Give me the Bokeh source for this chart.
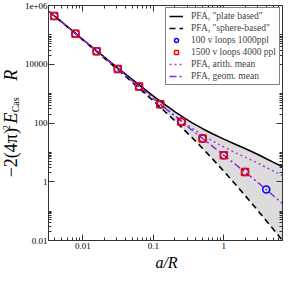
import math
from bokeh.plotting import figure
from bokeh.layouts import row, column
from bokeh.models import (FixedTicker, LogAxis, CustomJSTickFormatter,
                          Legend, LegendItem, Range1d)
from bokeh.core.properties import value
from bokeh.embed import file_html
from bokeh.resources import INLINE

# ---------------- data ----------------
x_curve = [0.0033, 0.01, 0.03, 0.1, 0.2, 0.35, 0.5, 0.7, 1.0, 1.5, 2.0, 3.0, 4.0, 5.0, 6.8]
pfa_plate = [628500, 69360, 8010, 823.4, 244.7, 102.5, 63.9, 42.3, 28.2, 18.1, 13.5, 8.66, 6.06, 4.63, 3.25]
pfa_sphere = [620200, 66670, 7129, 566.7, 121.4, 32.7, 13.6, 5.785, 2.267, 0.7555, 0.340, 0.108, 0.04723, 0.02471, 0.01007]
pfa_arith = [624400, 68010, 7568, 695.2, 183.0, 67.6, 38.8, 24.1, 15.2, 9.44, 6.91, 4.38, 3.06, 2.33, 1.63]
pfa_geom = [624400, 68000, 7556, 683.2, 172.4, 57.9, 29.5, 15.65, 7.99, 3.70, 2.14, 0.967, 0.535, 0.3385, 0.181]

x_loops_100 = [0.00390625, 0.0078125, 0.015625, 0.03125, 0.0625, 0.125, 0.25, 0.5, 1.0, 2.0, 4.0]
e_loops_100 = [4.4e5, 1.1e5, 2.75e4, 6900, 1740, 437, 110, 29.5, 8.0, 2.15, 0.54]
x_loops_1500 = [0.00390625, 0.0078125, 0.015625, 0.03125, 0.0625, 0.125, 0.25, 0.5, 1.0, 2.0]
e_loops_1500 = [4.4e5, 1.1e5, 2.75e4, 6900, 1740, 437, 110, 29.5, 8.0, 2.15]

y_tick_values = [0.01, 1, 100, 10000, 1e6]
y_tick_labels = ["0.01", "1", "100", "10000", "1e+06"]
x_tick_values = [0.01, 0.1, 1]
x_tick_labels = ["0.01", "0.1", "1"]

legend_labels = ['PFA, "plate based"', 'PFA, "sphere-based"', '100 v loops 1000ppl',
                 '1500 v loops 4000 ppl', 'PFA, arith. mean', 'PFA, geom. mean']

# y-axis title pieces: main text, superscript, italic E, subscript, italic R
ytitle_parts = ["\u22122(4\u03c0)", "2", "E", "Cas", "R"]
xtitle = "a/R"

# minor tick positions
x_minor = [k * 10.0 ** e for e in (-3, -2, -1, 0) for k in range(2, 10)]
y_minor = [k * 10.0 ** e for e in (-2, 0, 2, 4) for k in range(2, 11)]

SERIF = "Liberation Serif"
AXC = "#333333"
H_MAIN = 253
W_YL = 21

p = figure(width=283 - W_YL, height=H_MAIN, x_axis_type="log", y_axis_type="log",
           x_range=Range1d(0.00324, 6.8), y_range=Range1d(0.01, 1e6),
           output_backend="svg", toolbar_location=None,
           min_border_left=24, min_border_right=1, min_border_top=5, min_border_bottom=13)
p.xgrid.visible = False
p.ygrid.visible = False
p.outline_line_color = AXC
p.background_fill_color = "white"
p.border_fill_color = "white"

fmt_code = """
let best = 0, bd = 1e9;
for (let i = 0; i < vals.length; i++) {
  const d = Math.abs(Math.log10(tick) - Math.log10(vals[i]));
  if (d < bd) { bd = d; best = i; }
}
return labs[best];
"""


def style_axis(ax):
    ax.axis_line_color = AXC
    ax.major_tick_line_color = AXC
    ax.minor_tick_line_color = AXC
    ax.major_tick_in = 6
    ax.major_tick_out = 0
    ax.minor_tick_in = 3
    ax.minor_tick_out = 0
    ax.major_label_text_font = SERIF
    ax.major_label_text_font_size = "9px"
    ax.major_label_text_color = "black"


p.xaxis.ticker = FixedTicker(ticks=x_tick_values, minor_ticks=x_minor)
p.yaxis.ticker = FixedTicker(ticks=y_tick_values, minor_ticks=y_minor)
p.xaxis.formatter = CustomJSTickFormatter(args=dict(vals=x_tick_values, labs=x_tick_labels), code=fmt_code)
p.yaxis.formatter = CustomJSTickFormatter(args=dict(vals=y_tick_values, labs=y_tick_labels), code=fmt_code)
style_axis(p.xaxis[0])
style_axis(p.yaxis[0])
p.xaxis.major_label_standoff = 2
p.yaxis.major_label_standoff = 1

top_ax = LogAxis(ticker=FixedTicker(ticks=x_tick_values, minor_ticks=x_minor),
                 formatter=CustomJSTickFormatter(code="return '';"), major_label_standoff=0)
right_ax = LogAxis(ticker=FixedTicker(ticks=y_tick_values, minor_ticks=y_minor),
                   formatter=CustomJSTickFormatter(code="return '';"), major_label_standoff=0)
style_axis(top_ax)
style_axis(right_ax)
p.add_layout(top_ax, "above")
p.add_layout(right_ax, "right")

# ---------------- glyphs ----------------
p.varea(x=x_curve, y1=pfa_sphere, y2=pfa_plate, fill_color="#dcdcdc")
l_plate = p.line(x_curve, pfa_plate, line_color="black", line_width=1.5)
l_sphere = p.line(x_curve, pfa_sphere, line_color="black", line_width=1.6, line_dash="6 4")
l_arith = p.line(x_curve, pfa_arith, line_color="#a43ee8", line_width=1.5, line_dash="2 3")
l_geom = p.line(x_curve, pfa_geom, line_color="#8a22cf", line_width=1.4, line_dash="7 3 2 3")
s_100 = p.scatter(x_loops_100, e_loops_100, marker="circle", size=7, fill_color=None,
                  line_color="#0000ff", line_width=1.5)
s_1500 = p.scatter(x_loops_1500, e_loops_1500, marker="square", size=7, fill_color=None,
                   line_color="#ff0000", line_width=1.5)

legend = Legend(items=[
    LegendItem(label=legend_labels[0], renderers=[l_plate]),
    LegendItem(label=legend_labels[1], renderers=[l_sphere]),
    LegendItem(label=legend_labels[2], renderers=[s_100]),
    LegendItem(label=legend_labels[3], renderers=[s_1500]),
    LegendItem(label=legend_labels[4], renderers=[l_arith]),
    LegendItem(label=legend_labels[5], renderers=[l_geom]),
], location="top_right")
legend.label_text_font = SERIF
legend.label_text_font_size = "9.5px"
legend.label_height = 10
legend.glyph_height = 10
legend.glyph_width = 14
legend.label_standoff = 8
legend.spacing = 2
legend.padding = 3
legend.margin = 2
legend.border_line_color = "black"
legend.border_line_width = 1
legend.background_fill_color = "white"
legend.background_fill_alpha = 1.0
p.add_layout(legend)

# ---------------- y title (separate narrow figure, real text) ----------------
yl = figure(width=W_YL, height=H_MAIN, x_range=Range1d(0, W_YL), y_range=Range1d(0, H_MAIN),
            output_backend="svg", toolbar_location=None,
            x_axis_location=None, y_axis_location=None, min_border=0)
yl.outline_line_color = None
yl.xgrid.visible = False
yl.ygrid.visible = False
yl.background_fill_color = "white"
yl.border_fill_color = "white"

# (text, x-centre, y-start, size, style) in this small figure's pixel frame
ypieces = [
    (ytitle_parts[0], 10.5, 68, "18px", "normal"),
    (ytitle_parts[1], 6.0, 119, "10px", "normal"),
    (ytitle_parts[2], 10.5, 126, "18px", "italic"),
    (ytitle_parts[3], 15.0, 138, "10px", "normal"),
    (ytitle_parts[4], 10.5, 172, "18px", "italic"),
]
for t, xx, yy, sz, st in ypieces:
    yl.text(x=[xx], y=[yy], text=[t], angle=math.pi / 2, text_font=value(SERIF),
            text_font_size=value(sz), text_font_style=st, text_align="left",
            text_baseline="middle", text_color="black")

# ---------------- x title (separate short figure) ----------------
xl = figure(width=283, height=18, x_range=Range1d(0, 283), y_range=Range1d(0, 18),
            output_backend="svg", toolbar_location=None,
            x_axis_location=None, y_axis_location=None, min_border=0)
xl.outline_line_color = None
xl.xgrid.visible = False
xl.ygrid.visible = False
xl.background_fill_color = "white"
xl.border_fill_color = "white"
xl.text(x=[166], y=[9], text=[xtitle], text_font=value(SERIF), text_font_size=value("16px"),
        text_font_style="italic", text_align="center", text_baseline="middle", text_color="black")

layout = column(row(yl, p, spacing=0), xl, spacing=0)
open("out.html", "w").write(file_html(layout, INLINE))
